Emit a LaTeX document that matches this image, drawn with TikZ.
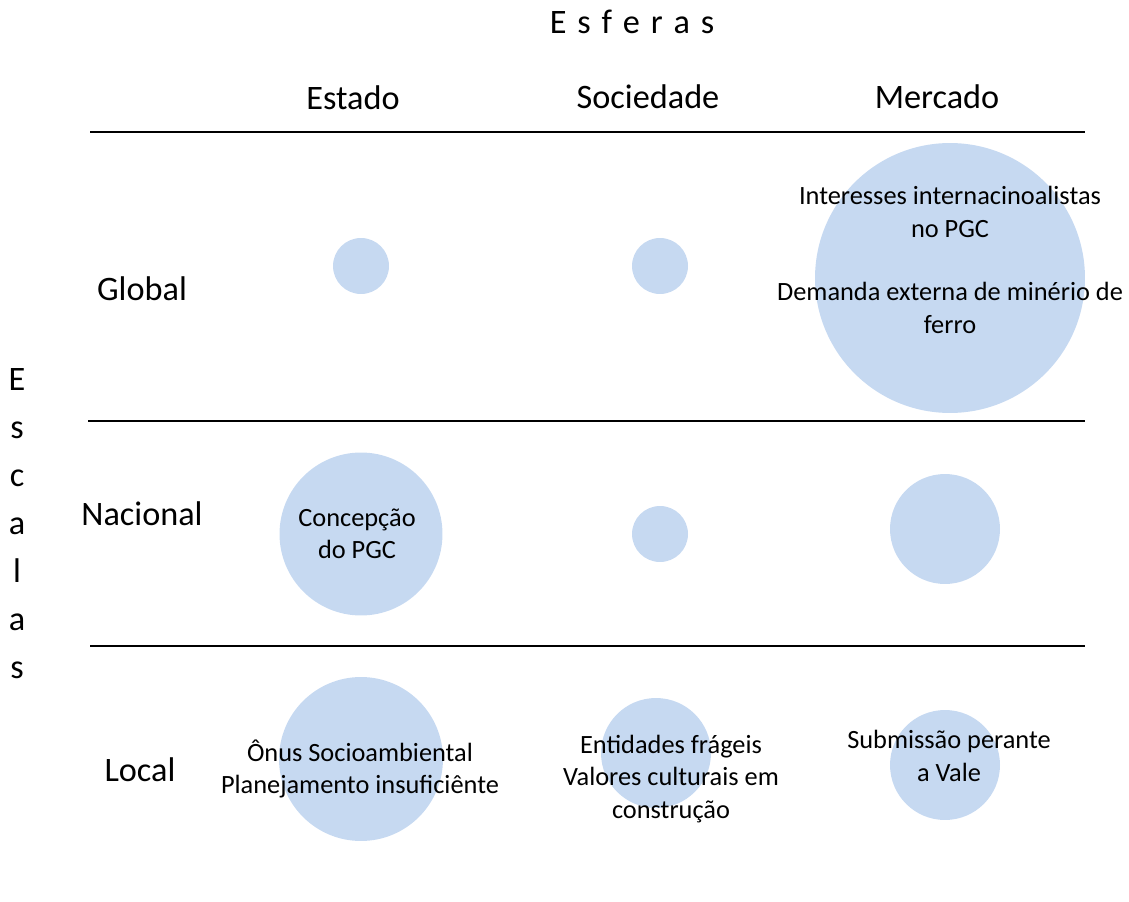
\documentclass[tikz,border=0pt]{standalone}
\usepackage{fontspec}
\setmainfont{Carlito}
\newfontfamily\widefont{Carlito}[WordSpace=1.4]
\usepackage{tikz}
\definecolor{bubble}{HTML}{C6D9F1}

\begin{document}
\begin{tikzpicture}[x=0.02cm,y=-0.02cm,
	big/.style={font=\fontsize{19.5}{27.3}\selectfont},
	txt/.style={align=center,inner sep=0pt,font=\fontsize{15}{18.3}\selectfont},
	ball/.style={circle,fill=bubble,inner sep=0pt}]
	\useasboundingbox (0,0) rectangle (1129,902);
	% titles
	\node[big]	(esf) at (632,22) {\widefont E s f e r a s};
	\node[big,align=center]	(esc) at (17,524) {E\\s\\c\\a\\l\\a\\s};
	\node[big]	(estado) at (353,98) {Estado};
	\node[big]	(sociedade) at (648,97) {Sociedade};
	\node[big]	(mercado) at (937,97) {Mercado};
	\node[big]	(global) at (142,289) {Global};
	\node[big]	(nacional) at (142,514) {Nacional};
	\node[big]	(local) at (140,770) {Local};
	% rules
	\coordinate (l1) at (90,132);
	\coordinate (r1) at (1085,132);
	\coordinate (l2) at (88,421);
	\coordinate (r2) at (1085,421);
	\coordinate (l3) at (90,646);
	\coordinate (r3) at (1085,646);
	\draw[line width=0.7pt] (l1) -- (r1) (l2) -- (r2) (l3) -- (r3);
	% bubbles
	\node[ball,minimum size=1.12cm]	(ge) at (361,266) {};
	\node[ball,minimum size=1.12cm]	(gs) at (660,266) {};
	\node[ball,minimum size=5.4cm]	(gm) at (950,278) {};
	\node[ball,minimum size=3.26cm]	(ne) at (361,534) {};
	\node[ball,minimum size=1.12cm]	(ns) at (660,534) {};
	\node[ball,minimum size=2.2cm]	(nm) at (945,529) {};
	\node[ball,minimum size=3.28cm]	(le) at (361,759) {};
	\node[ball,minimum size=2.2cm]	(ls) at (656,753) {};
	\node[ball,minimum size=2.2cm]	(lm) at (945,765) {};
	% texts
	\node[txt]	(gm1) at (950,212) {Interesses internacinoalistas\\no PGC};
	\node[txt]	(gm2) at (950,308) {Demanda externa de minério de\\ferro};
	\node[txt]	(ne1) at (357,534) {Concepção\\do PGC};
	\node[txt]	(le1) at (360,769) {Ônus Socioambiental\\Planejamento insuficiênte};
	\node[txt]	(ls1) at (671,779) {Entidades frágeis\\Valores culturais em\\construção};
	\node[txt]	(lm1) at (949,756) {Submissão perante\\a Vale};
\end{tikzpicture}
\end{document}
